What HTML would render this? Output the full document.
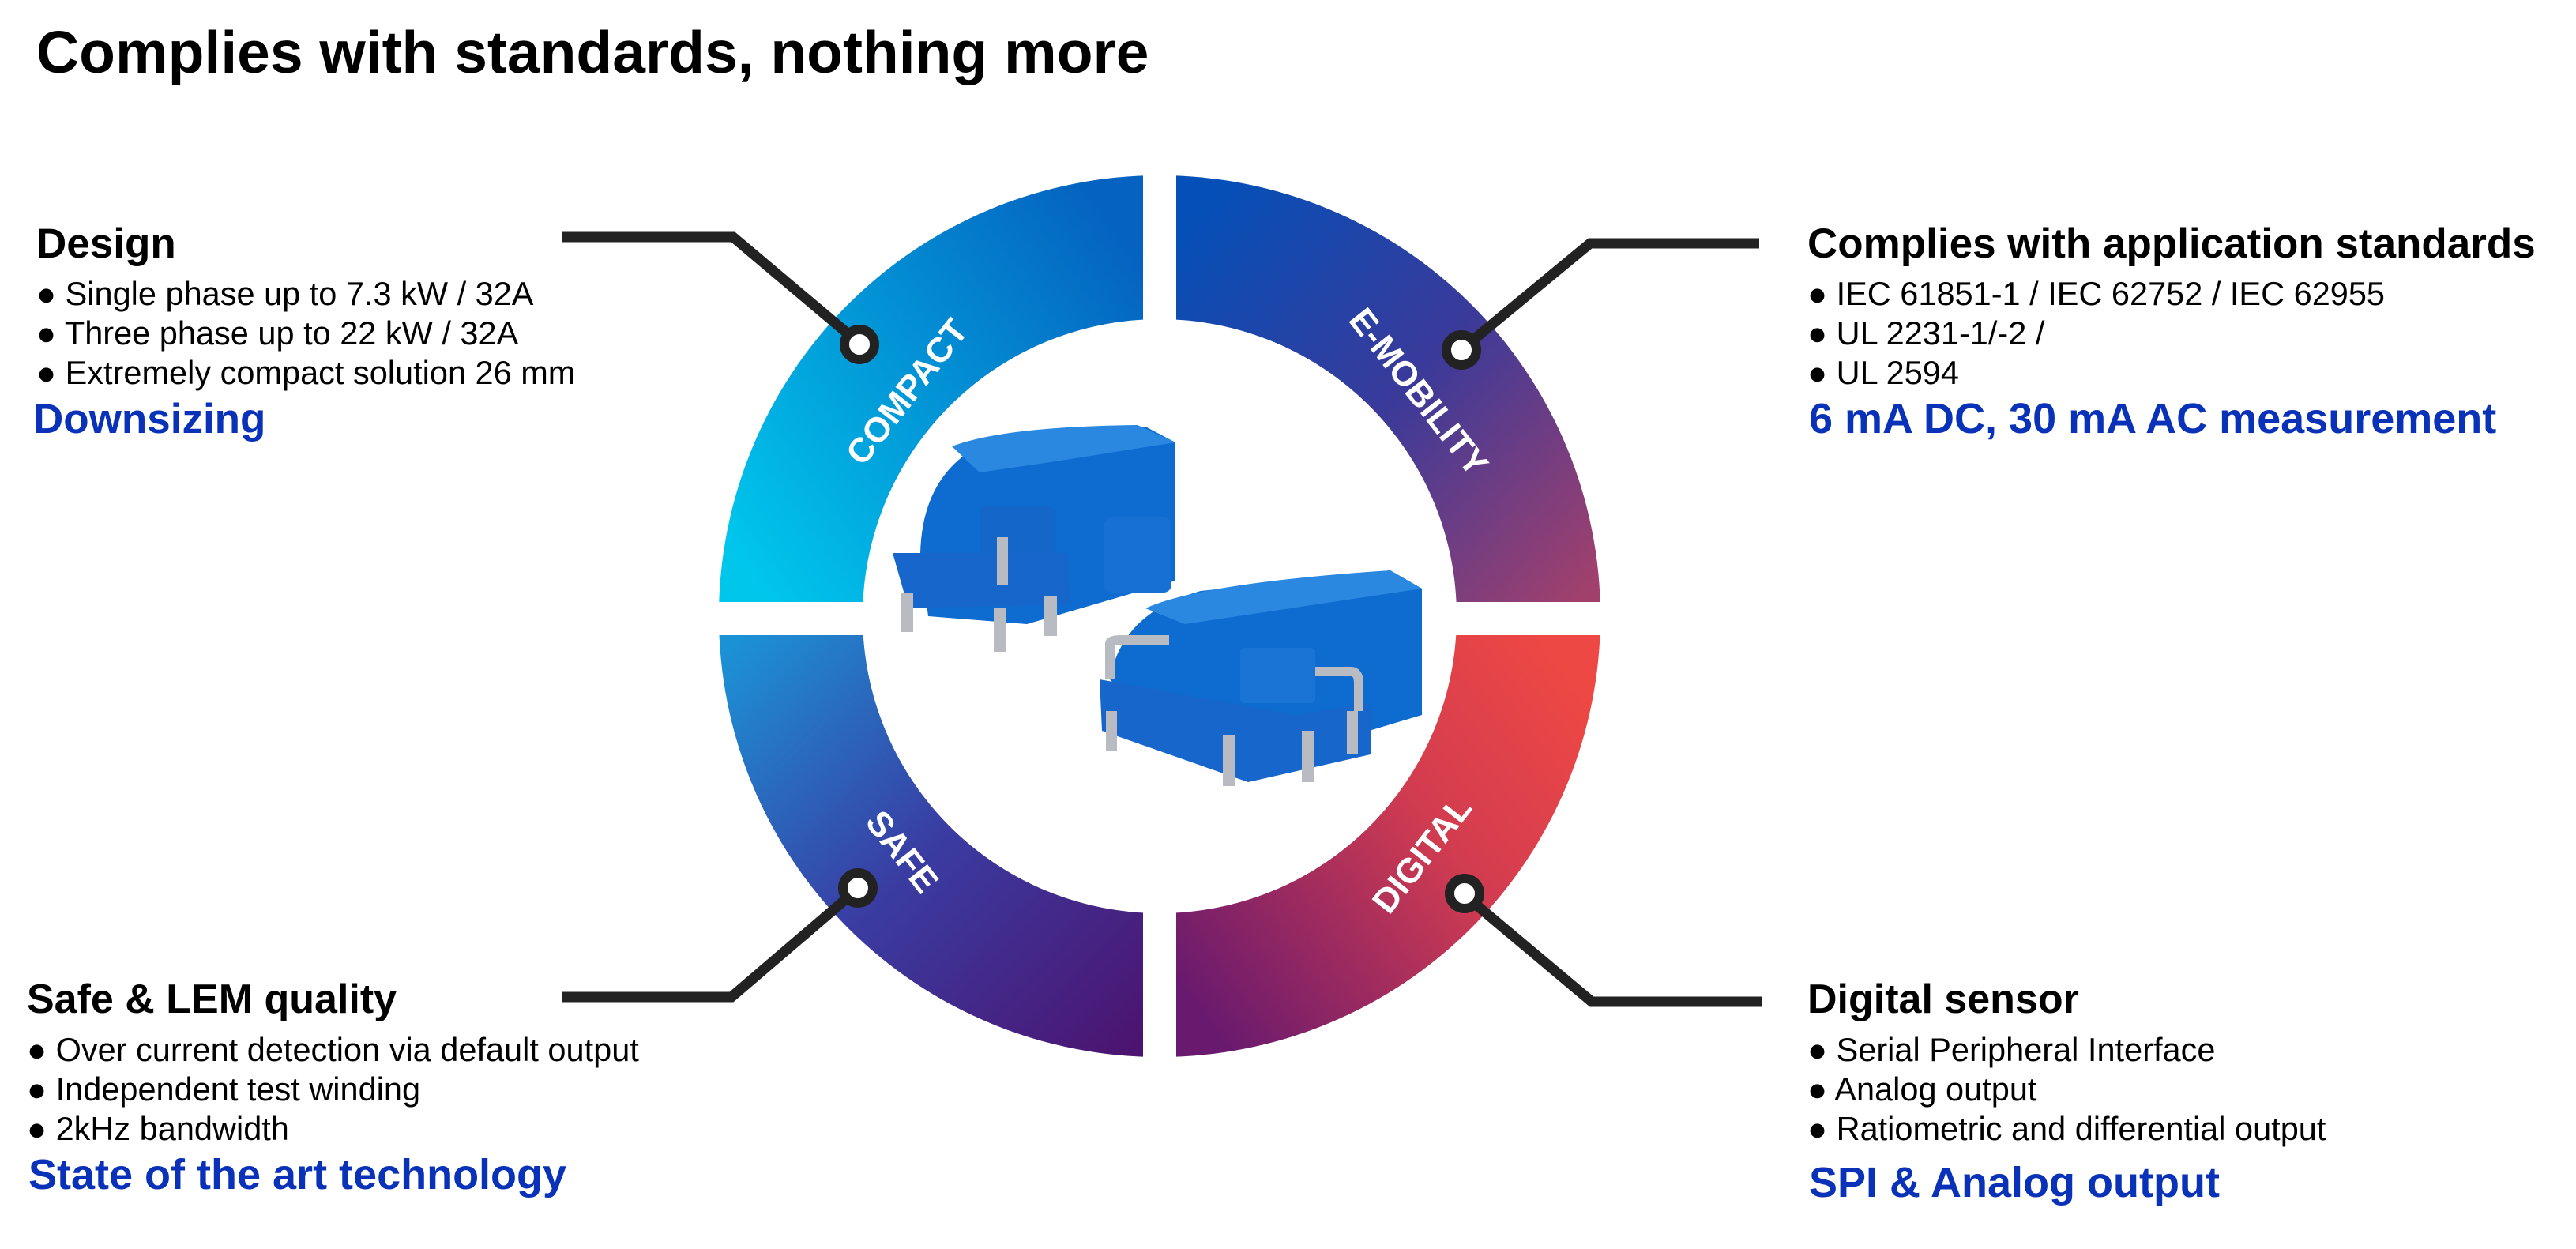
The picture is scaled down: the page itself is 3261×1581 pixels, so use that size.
<!DOCTYPE html>
<html><head><meta charset="utf-8"><style>
html,body{margin:0;padding:0;background:#fff;}
svg{display:block;}
text{font-family:"Liberation Sans",Arial,sans-serif;}
</style></head><body>
<svg width="3261" height="1581" viewBox="0 0 3261 1581" xmlns="http://www.w3.org/2000/svg">
<defs>
<linearGradient id="gTL" gradientUnits="userSpaceOnUse" x1="930" y1="700" x2="1447" y2="330"><stop offset="0" stop-color="#00c6ec"/><stop offset="1" stop-color="#0562c0"/></linearGradient>
<linearGradient id="gTR" gradientUnits="userSpaceOnUse" x1="1500" y1="280" x2="2020" y2="740"><stop offset="0" stop-color="#0450b8"/><stop offset="0.5" stop-color="#3a3a9a"/><stop offset="1" stop-color="#a2406c"/></linearGradient>
<linearGradient id="gBL" gradientUnits="userSpaceOnUse" x1="920" y1="820" x2="1440" y2="1320"><stop offset="0" stop-color="#1c92d6"/><stop offset="0.5" stop-color="#3a3ca2"/><stop offset="1" stop-color="#4c1470"/></linearGradient>
<linearGradient id="gBR" gradientUnits="userSpaceOnUse" x1="1500" y1="1250" x2="2010" y2="880"><stop offset="0" stop-color="#6a1a6e"/><stop offset="0.6" stop-color="#d23c50"/><stop offset="1" stop-color="#ee4844"/></linearGradient>
<clipPath id="cTL"><rect x="0" y="0" width="1447" height="762"/></clipPath>
<clipPath id="cTR"><rect x="1489" y="0" width="1000" height="762"/></clipPath>
<clipPath id="cBL"><rect x="0" y="804" width="1447" height="800"/></clipPath>
<clipPath id="cBR"><rect x="1489" y="804" width="1000" height="800"/></clipPath>
</defs>

<text x="46" y="92" font-size="75" font-weight="bold" fill="#000">Complies with standards, nothing more</text>

<g fill-rule="evenodd">
<path clip-path="url(#cTL)" fill="url(#gTL)" d="M910,780a558,558 0 1,0 1116,0a558,558 0 1,0 -1116,0Z M1092,780a376,376 0 1,0 752,0a376,376 0 1,0 -752,0Z"/>
<path clip-path="url(#cTR)" fill="url(#gTR)" d="M910,780a558,558 0 1,0 1116,0a558,558 0 1,0 -1116,0Z M1092,780a376,376 0 1,0 752,0a376,376 0 1,0 -752,0Z"/>
<path clip-path="url(#cBL)" fill="url(#gBL)" d="M910,780a558,558 0 1,0 1116,0a558,558 0 1,0 -1116,0Z M1092,780a376,376 0 1,0 752,0a376,376 0 1,0 -752,0Z"/>
<path clip-path="url(#cBR)" fill="url(#gBR)" d="M910,780a558,558 0 1,0 1116,0a558,558 0 1,0 -1116,0Z M1092,780a376,376 0 1,0 752,0a376,376 0 1,0 -752,0Z"/>
</g>

<g fill="#fff" font-size="44" font-weight="bold" text-anchor="middle">
<text transform="translate(1148,496) rotate(-52)" y="15">COMPACT</text>
<text transform="translate(1796,496) rotate(52)" y="15">E-MOBILITY</text>
<text transform="translate(1142,1078) rotate(52)" y="15">SAFE</text>
<text transform="translate(1800,1082) rotate(-52)" y="15">DIGITAL</text>
</g>

<g>
 <path fill="#0e6cd0" d="M1165,700 Q1168,590 1260,555 L1450,540 L1488,560 L1488,735 L1300,790 L1175,780 Z"/>
 <path fill="#2a88e0" d="M1205,565 Q1270,540 1440,538 L1488,560 L1330,585 L1240,598 Z"/>
 <rect x="1398" y="655" width="85" height="95" rx="10" fill="#1770d4"/>
 <rect x="1240" y="640" width="95" height="95" rx="10" fill="#1466c8"/>
 <path fill="#1666cc" d="M1130,700 L1350,700 L1355,765 L1150,770 Z"/>
 <g fill="#b8bcc2"><rect x="1140" y="750" width="16" height="50"/><rect x="1258" y="770" width="16" height="55"/><rect x="1322" y="755" width="16" height="50"/><rect x="1262" y="680" width="14" height="60"/></g>
 <path fill="#0e6cd0" d="M1405,860 Q1420,775 1520,748 L1760,722 L1800,745 L1800,905 L1600,965 L1500,960 Z"/>
 <path fill="#2a88e0" d="M1450,770 Q1520,738 1760,722 L1800,745 L1600,775 L1500,790 Z"/>
 <path fill="#1666cc" d="M1392,860 L1640,905 L1735,890 L1735,955 L1580,990 L1395,925 Z"/>
 <rect x="1570" y="820" width="95" height="70" rx="6" fill="#1a74d6"/>
 <g fill="#b8bcc2"><rect x="1400" y="900" width="14" height="50"/><rect x="1548" y="930" width="16" height="65"/><rect x="1648" y="925" width="16" height="65"/><rect x="1705" y="900" width="14" height="55"/></g>
 <path d="M1405,860 L1405,815 Q1405,810 1420,810 L1480,810" stroke="#b8bcc2" stroke-width="12" fill="none"/>
 <path d="M1665,850 L1710,850 Q1720,850 1720,865 L1720,900" stroke="#b8bcc2" stroke-width="12" fill="none"/>
</g>

<g stroke="#222" stroke-width="13" fill="none">
<polyline points="711,300 928,300 1080,428"/>
<polyline points="2227,308 2013,308 1858,436"/>
<polyline points="712,1262 926,1262 1078,1132"/>
<polyline points="2231,1268 2015,1268 1860,1138"/>
</g>
<g fill="#fff" stroke="#222" stroke-width="12">
<circle cx="1088" cy="436" r="19"/>
<circle cx="1850" cy="443" r="19"/>
<circle cx="1086" cy="1124" r="19"/>
<circle cx="1854" cy="1131" r="19"/>
</g>

<text x="46" y="326" font-size="53" font-weight="bold" fill="#000">Design</text>
<g font-size="41.5" fill="#000">
<text x="46" y="386">● Single phase up to 7.3 kW / 32A</text>
<text x="46" y="436">● Three phase up to 22 kW / 32A</text>
<text x="46" y="486">● Extremely compact solution 26 mm</text>
</g>
<text x="42" y="548" font-size="53" font-weight="bold" fill="#0a32b8">Downsizing</text>

<text x="2288" y="326" font-size="53" font-weight="bold" fill="#000">Complies with application standards</text>
<g font-size="41.5" fill="#000">
<text x="2288" y="386">● IEC 61851-1 / IEC 62752  / IEC 62955</text>
<text x="2288" y="436">● UL 2231-1/-2 /</text>
<text x="2288" y="486">● UL 2594</text>
</g>
<text x="2290" y="548" font-size="54" font-weight="bold" fill="#0a32b8">6 mA DC, 30 mA AC measurement</text>

<text x="34" y="1282" font-size="52" font-weight="bold" fill="#000">Safe &amp; LEM quality</text>
<g font-size="41.5" fill="#000">
<text x="34" y="1343">● Over current detection via default output</text>
<text x="34" y="1393">● Independent test winding</text>
<text x="34" y="1443">● 2kHz bandwidth</text>
</g>
<text x="36" y="1505" font-size="54" font-weight="bold" fill="#0a32b8">State of the art technology</text>

<text x="2288" y="1282" font-size="52" font-weight="bold" fill="#000">Digital sensor</text>
<g font-size="41.5" fill="#000">
<text x="2288" y="1343">● Serial Peripheral Interface</text>
<text x="2288" y="1393">● Analog output</text>
<text x="2288" y="1443">● Ratiometric and differential output</text>
</g>
<text x="2290" y="1515" font-size="54" font-weight="bold" fill="#0a32b8">SPI &amp; Analog output</text>
</svg>
</body></html>
